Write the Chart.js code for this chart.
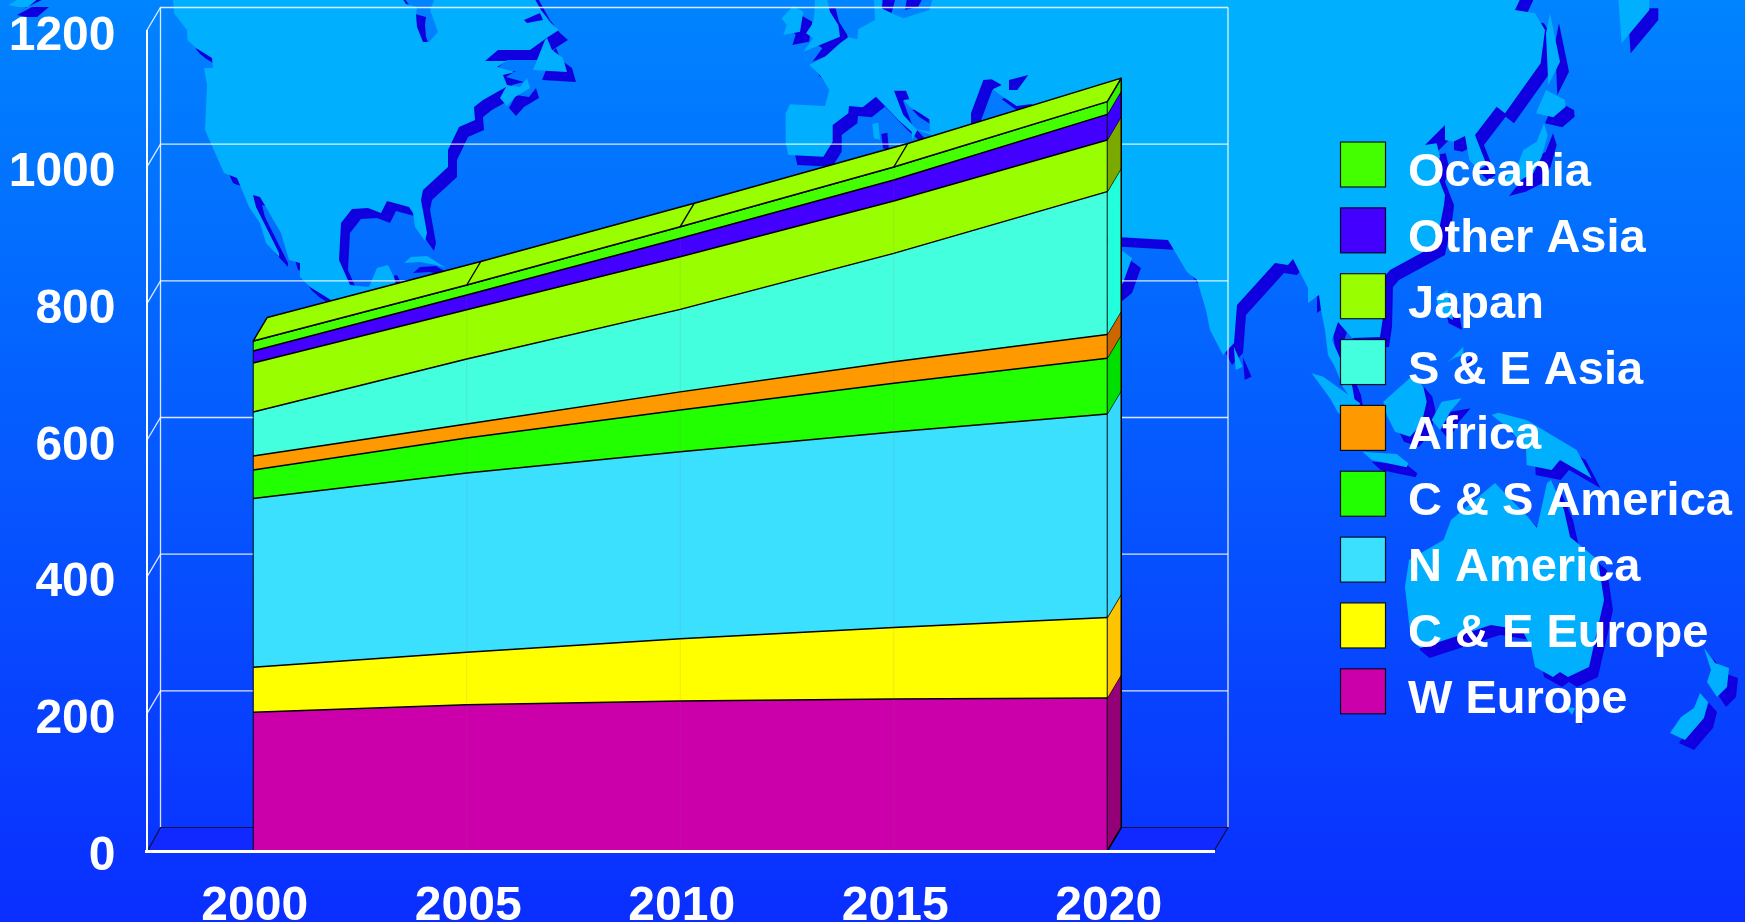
<!DOCTYPE html>
<html>
<head>
<meta charset="utf-8">
<title>Regional energy demand, 2000-2020</title>
<script src="https://cdn.jsdelivr.net/npm/chart.js@4"></script>
<style>
  html, body { margin: 0; padding: 0; background: #0060ff; overflow: hidden; }
  canvas { display: block; }
</style>
</head>
<body>
<canvas id="chart" width="1745" height="922"></canvas>
<script>
// Axis categories and ticks
const years = ['2000', '2005', '2010', '2015', '2020'];
const yMax = 1200;
const yStep = 200;

// Band thickness per region, bottom of the stack first
const wEurope  = [203, 214, 219.5, 222.6, 224];
const ceEurope = [66, 77, 91, 104.4, 117.6];
const nAmerica = [247, 262, 273.8, 286, 297.9];
const csAmerica = [41.6, 51.4, 61, 71.4, 81.5];
const africa   = [20.4, 20.5, 26.6, 31.6, 35];
const seAsia   = [64.5, 95.1, 120.7, 158.6, 208.9];
const japan    = [71.5, 72, 77.1, 76.7, 75.5];
const otherAsia = [17.7, 21.7, 26.9, 30.7, 37.6];
const oceania  = [14.7, 14.6, 17, 19, 18.6];

const regionNames = ['W Europe', 'C & E Europe', 'N America', 'C & S America', 'Africa', 'S & E Asia', 'Japan', 'Other Asia', 'Oceania'];
const regionValues = [wEurope, ceEurope, nAmerica, csAmerica, africa, seAsia, japan, otherAsia, oceania];
const faceColors = ['#cc00aa', '#ffff00', '#3ce0ff', '#22ff00', '#ff9900', '#44ffdd', '#99ff00', '#4400ff', '#44ff00'];
const sideColors = ['#940078', '#ffc400', '#36d8ff', '#00e000', '#cc6600', '#22ffdd', '#7aaa00', '#3a00ff', '#33f000'];

// Extruded depth of the chart box
const depthX = 14;
const depthY = 23.5;

// World map backdrop, outlines in page pixels; some are authored at a local scale
const at = (ox, oy, sx, sy, pts) => pts.map(([x, y]) => [ox + x / sx, oy + y / sy]);

const northAmericaCoast = [[172,-15],[174,13],[187,30],[187.5,40],[196,48],[212,58],[213,68],[204,68],[207,85],[205,130],[224,173],[237,178],[245,197],[249,207],[260,223],[266,243],[279,257],[279,253],[256,207],[253,195],[260,197],[281,233],[289,260],[300,263],[300,277],[310,287],[331,300],[370,320],[400,300],[394,277],[388,265],[377,268],[369,287],[350,285],[339,260],[341,223],[352,209],[368,208],[381,213],[387,201],[409,207],[413,213],[415,227],[425,241],[427,233],[421,200],[423,190],[448,167],[448,150],[459,127],[475,120],[474,107],[483,100],[506,87],[500,98],[507,106],[515,97],[530,88],[527,78],[520,87],[507,85],[503,75],[515,72],[497,67],[507,61],[485,61],[498,50],[530,50],[548,37],[559,30],[551,23],[541,10],[527,-15]];
const hudsonBay = [[394,-14],[406,4],[417,7],[416,15],[417,27],[423,42],[429,42],[438,32],[430,10],[440,-14]];
const ungavaInlet = [[524,20],[540,13],[543,20],[527,23]];

const eurasiaCoast = [
  ...at(770, 0, 3, 3, [[310,-45],[315,60],[265,88],[262,118],[235,112],[210,130],[165,170],[118,195],[145,220],[160,240],[178,270],[165,318],[60,313],[47,340],[47,430],[55,465],[160,470],[188,425],[188,375],[235,340],[237,318],[278,322],[318,290],[345,318],[385,360],[425,395],[427,420],[442,390],[485,405],[500,500],[603,500],[603,340],[640,240],[665,238],[695,255],[668,268],[705,295],[740,318],[785,312],[790,500]]),
  [1100,236],[1168,240],[1187,272],[1197,280],[1206,310],[1210,330],[1223,355],[1234,343],[1237,305],[1275,263],[1288,265],[1293,259],[1308,288],[1308,303],[1319,295],[1321,310],[1325,330],[1328,355],[1335,367],[1343,387],[1352,400],[1355,402],[1352,385],[1332,340],[1338,322],[1352,338],[1380,337],[1383,317],[1384,277],[1390,270],[1436,245],[1444,205],[1445,195],[1436,172],
  ...at(1420, 0, 3, 3, [[60,470],[50,430],[15,435],[75,375],[75,420],[100,425],[135,408],[148,480],[175,510],[200,495],[165,405],[230,320],[255,340],[362,190],[375,90],[345,40],[285,30],[320,-45]])
];
const baltic = at(770, 0, 3, 3, [[335,-44],[500,-44],[478,30],[400,55],[365,40],[335,25]]);
const blackSea = at(770, 0, 3, 3, [[372,272],[408,272],[418,298],[400,300],[420,320],[478,358],[480,395],[440,388],[400,345]]);
const caspianInlet = at(770, 0, 3, 3, [[717,240],[775,225],[742,270],[717,270]]);

const islands = [
  [[8,5],[23,-3],[40,-3],[28,7],[18,7]],
  [[404,263],[411,257],[427,256],[446,268],[436,265],[420,262]],
  [[547,38],[552,50],[563,58],[567,72],[533,70],[545,40]],
  at(770, 0, 3, 3, [[35,55],[70,18],[100,35],[90,95],[40,105],[50,75]]),
  at(770, 0, 3, 3, [[108,-5],[170,-5],[180,35],[205,75],[210,110],[100,155],[130,115],[108,100],[125,75],[132,55],[135,-5]]),
  at(770, 0, 3, 3, [[307,372],[325,368],[330,420],[312,415]]),
  [[1100,245],[1121,250],[1132,258],[1123,283],[1112,292],[1100,300]],
  at(1145, 0, 2.613, 3, [[232,1040],[255,1100],[237,1110]]),
  at(1145, 0, 2.613, 3, [[760,890],[790,870],[805,960],[770,940]]),
  at(1420, 0, 3, 3, [[390,40],[420,185],[385,255],[378,100]]),
  at(1420, 0, 3, 3, [[378,270],[435,300],[437,320],[400,352],[348,340]]),
  at(1420, 0, 3, 3, [[372,370],[383,405],[365,470],[340,520],[290,545],[240,558],[295,490],[310,450],[350,425]]),
  at(1420, 0, 3, 3, [[595,-5],[688,-5],[688,30],[605,130]]),
  at(1290, 330, 3, 3, [[470,100],[520,50],[520,75],[490,85]]),
  at(1290, 330, 3, 3, [[65,130],[100,140],[210,220],[200,260],[145,250],[120,205]]),
  at(1290, 330, 3, 3, [[218,365],[320,372],[355,400],[350,412],[245,390]]),
  at(1290, 330, 3, 3, [[280,215],[370,135],[400,170],[410,215],[395,280],[360,320],[315,305],[290,255]]),
  at(1290, 330, 3, 3, [[455,215],[515,205],[480,245],[450,300],[425,270]]),
  at(1290, 330, 3, 3, [[605,255],[625,248],[710,270],[860,360],[905,445],[810,390],[785,420],[710,405],[708,355],[650,290]]),
  [[1443.5,540],[1451,520],[1495,483],[1528,517],[1537,528],[1547,483],[1551,480],[1564,510],[1570,537],[1598,560],[1604,600],[1589,667],[1568,677],[1560,672],[1553,677],[1535,667],[1531,647],[1522,630],[1491,625],[1420.5,648],[1411,640],[1405,587],[1409,560]],
  [[1566,707],[1575,708],[1572,715]],
  [[1704,648],[1715,663],[1729,668],[1727,687],[1717,697],[1707,682],[1711,670]],
  [[1700,693],[1708,702],[1704,718],[1685,740],[1670,733],[1681,717],[1694,708]]
];
const continents = [
  [northAmericaCoast, hudsonBay, ungavaInlet],
  [eurasiaCoast, baltic, blackSea, caspianInlet]
];
const extraShade = [
  [[196,48],[212,57],[212,62],[200,54]],
  [[231,177],[236,178],[239,185],[235,184]],
  [[310,287],[331,300],[326,301],[312,291]],
  at(770, 0, 3, 3, [[335,25],[340,0],[375,0],[365,38]]),
  at(770, 0, 3, 3, [[405,30],[410,0],[455,0],[445,20]]),
  [[17,15],[25,8],[46,-2],[33,-2],[27,6]]
];

function tracePath(rings, dx, dy) {
  const path = new Path2D();
  rings.forEach(ring => {
    ring.forEach(([x, y], i) => i ? path.lineTo(x + dx, y + dy) : path.moveTo(x + dx, y + dy));
    path.closePath();
  });
  return path;
}

const mapBackdrop = {
  id: 'mapBackdrop',
  beforeDraw(chart) {
    const { ctx, width, height } = chart;
    ctx.save();
    const sky = ctx.createLinearGradient(0, 0, 0, height);
    sky.addColorStop(0, '#0084ff');
    sky.addColorStop(1, '#0a2eff');
    ctx.fillStyle = sky;
    ctx.fillRect(0, 0, width, height);

    const shade = 'rgb(16,0,224)';
    const land = '#00b0ff';
    ctx.fillStyle = shade;
    extraShade.forEach(r => ctx.fill(tracePath([r], 0, 0)));
    continents.forEach(rings => ctx.fill(tracePath(rings, 9, 10), 'evenodd'));
    islands.forEach(r => ctx.fill(tracePath([r], 9, 10)));
    ctx.fillStyle = land;
    continents.forEach(rings => ctx.fill(tracePath(rings, 0, 0), 'evenodd'));
    islands.forEach(r => ctx.fill(tracePath([r], 0, 0)));
    ctx.restore();
  }
};

// Floor and back wall of the box, placed from the chart's own scales
const boxWalls = {
  id: 'boxWalls',
  beforeDatasetsDraw(chart) {
    const { ctx, chartArea: a, scales: { y } } = chart;
    const bx0 = a.left + depthX, bx1 = a.right + depthX;
    const zero = y.getPixelForValue(0);
    ctx.save();
    ctx.fillStyle = '#1128ff';
    ctx.beginPath();
    ctx.moveTo(a.left, zero);
    ctx.lineTo(bx0, zero - depthY);
    ctx.lineTo(bx1, zero - depthY);
    ctx.lineTo(a.right, zero);
    ctx.closePath();
    ctx.fill();

    ctx.strokeStyle = 'rgba(255,255,255,0.85)';
    ctx.lineWidth = 1.3;
    y.ticks.forEach(t => {
      if (t.value === 0) return;
      const p = y.getPixelForValue(t.value);
      ctx.beginPath();
      ctx.moveTo(a.left, p);
      ctx.lineTo(bx0, p - depthY);
      ctx.lineTo(bx1, p - depthY);
      ctx.stroke();
    });
    ctx.beginPath();
    ctx.moveTo(bx0, y.getPixelForValue(yMax) - depthY);
    ctx.lineTo(bx0, zero - depthY);
    ctx.moveTo(bx1, y.getPixelForValue(yMax) - depthY);
    ctx.lineTo(bx1, zero - depthY);
    ctx.stroke();

    ctx.strokeStyle = '#101040';
    ctx.lineWidth = 1.2;
    ctx.beginPath();
    ctx.moveTo(a.left + 1, zero);
    ctx.lineTo(bx0, zero - depthY);
    ctx.lineTo(bx1, zero - depthY);
    ctx.lineTo(a.right, zero);
    ctx.stroke();
    ctx.restore();
  },
  // Side faces, top face and edges of the solid stack
  afterDatasetsDraw(chart) {
    const { ctx, scales: { y } } = chart;
    const zero = y.getPixelForValue(0);
    const metas = regionNames.map((_, i) => chart.getDatasetMeta(i).data);
    const last = years.length - 1;
    ctx.save();
    ctx.lineJoin = 'round';

    let below = zero;
    metas.forEach((pts, i) => {
      const { x, y: top } = pts[last];
      ctx.fillStyle = sideColors[i];
      ctx.beginPath();
      ctx.moveTo(x, below);
      ctx.lineTo(x + depthX, below - depthY);
      ctx.lineTo(x + depthX, top - depthY);
      ctx.lineTo(x, top);
      ctx.closePath();
      ctx.fill();
      ctx.strokeStyle = '#000';
      ctx.lineWidth = 1.2;
      ctx.beginPath();
      ctx.moveTo(x, top);
      ctx.lineTo(x + depthX, top - depthY);
      ctx.stroke();
      below = top;
    });

    // Faint seams where the year columns meet
    ctx.strokeStyle = 'rgba(120,120,120,0.14)';
    ctx.lineWidth = 1;
    for (let k = 1; k < last; k++) {
      ctx.beginPath();
      ctx.moveTo(metas[0][k].x, zero);
      ctx.lineTo(metas[0][k].x, metas[metas.length - 1][k].y);
      ctx.stroke();
    }

    const crown = metas[metas.length - 1];
    ctx.fillStyle = '#99ff00';
    ctx.strokeStyle = '#000';
    ctx.lineWidth = 1.4;
    ctx.beginPath();
    crown.forEach((p, k) => k ? ctx.lineTo(p.x, p.y) : ctx.moveTo(p.x, p.y));
    for (let k = last; k >= 0; k--) ctx.lineTo(crown[k].x + depthX, crown[k].y - depthY);
    ctx.closePath();
    ctx.fill();
    ctx.stroke();
    for (let k = 1; k < last; k++) {
      ctx.beginPath();
      ctx.moveTo(crown[k].x, crown[k].y);
      ctx.lineTo(crown[k].x + depthX, crown[k].y - depthY);
      ctx.stroke();
    }

    const left = metas[0][0].x, right = metas[0][last].x;
    ctx.lineWidth = 1.2;
    ctx.strokeStyle = 'rgba(0,0,0,0.75)';
    ctx.beginPath();
    ctx.moveTo(left, zero);
    ctx.lineTo(left, crown[0].y);
    ctx.moveTo(right, zero);
    ctx.lineTo(right, crown[last].y);
    ctx.stroke();
    ctx.strokeStyle = '#000';
    ctx.lineWidth = 1.5;
    ctx.beginPath();
    ctx.moveTo(right + depthX, zero - depthY);
    ctx.lineTo(right + depthX, crown[last].y - depthY);
    ctx.moveTo(right, zero);
    ctx.lineTo(right + depthX, zero - depthY);
    ctx.stroke();
    ctx.restore();
  }
};

// Key on the right, top entry is the top of the stack
const sideKey = {
  id: 'sideKey',
  afterDraw(chart) {
    const { ctx } = chart;
    ctx.save();
    ctx.font = 'bold 47px "Liberation Sans", Arial, sans-serif';
    ctx.textBaseline = 'alphabetic';
    ctx.textAlign = 'left';
    regionNames.slice().reverse().forEach((name, i) => {
      const color = faceColors[regionNames.length - 1 - i];
      const top = 142 + i * 65.85;
      ctx.fillStyle = color;
      ctx.fillRect(1340.5, top, 45, 45);
      ctx.strokeStyle = 'rgba(0,0,20,0.9)';
      ctx.lineWidth = 1.2;
      ctx.strokeRect(1340.5, top, 45, 45);
      ctx.fillStyle = '#fff';
      ctx.fillText(name, 1408, top + 44);
    });
    ctx.restore();
  }
};

new Chart(document.getElementById('chart'), {
  type: 'line',
  data: {
    labels: years,
    datasets: regionNames.map((label, i) => ({
      label,
      data: regionValues[i],
      backgroundColor: faceColors[i],
      borderColor: '#000',
      borderWidth: 1.5,
      pointRadius: 0,
      tension: 0,
      fill: i === 0 ? 'origin' : '-1'
    }))
  },
  options: {
    responsive: false,
    animation: false,
    events: [],
    layout: { padding: { top: 31, right: 531, left: 0, bottom: 0 } },
    plugins: { legend: { display: false }, tooltip: { enabled: false } },
    scales: {
      x: {
        offset: true,
        grid: { display: false },
        border: { display: true, color: '#fff', width: 3, z: 1 },
        afterFit(scale) {
          scale.height = 71;
          scale.paddingLeft = 0;
          scale.paddingRight = 0;
        },
        ticks: {
          color: '#fff',
          padding: 24,
          labelOffset: 1.5,
          maxRotation: 0,
          autoSkip: false,
          font: { family: '"Liberation Sans", Arial, sans-serif', size: 48, weight: 'bold', lineHeight: 1 }
        }
      },
      y: {
        stacked: true,
        min: 0,
        max: yMax,
        grid: { display: false },
        border: { display: true, color: '#fff', width: 2, z: 1 },
        afterFit(scale) {
          scale.width = 146.5;
          scale.paddingTop = 0;
          scale.paddingBottom = 0;
        },
        ticks: {
          color: '#fff',
          stepSize: yStep,
          padding: 23,
          labelOffset: 5.5,
          callback: value => String(value),
          font: { family: '"Liberation Sans", Arial, sans-serif', size: 48, weight: 'bold', lineHeight: 1 }
        }
      }
    }
  },
  plugins: [mapBackdrop, boxWalls, sideKey]
});
</script>
</body>
</html>
